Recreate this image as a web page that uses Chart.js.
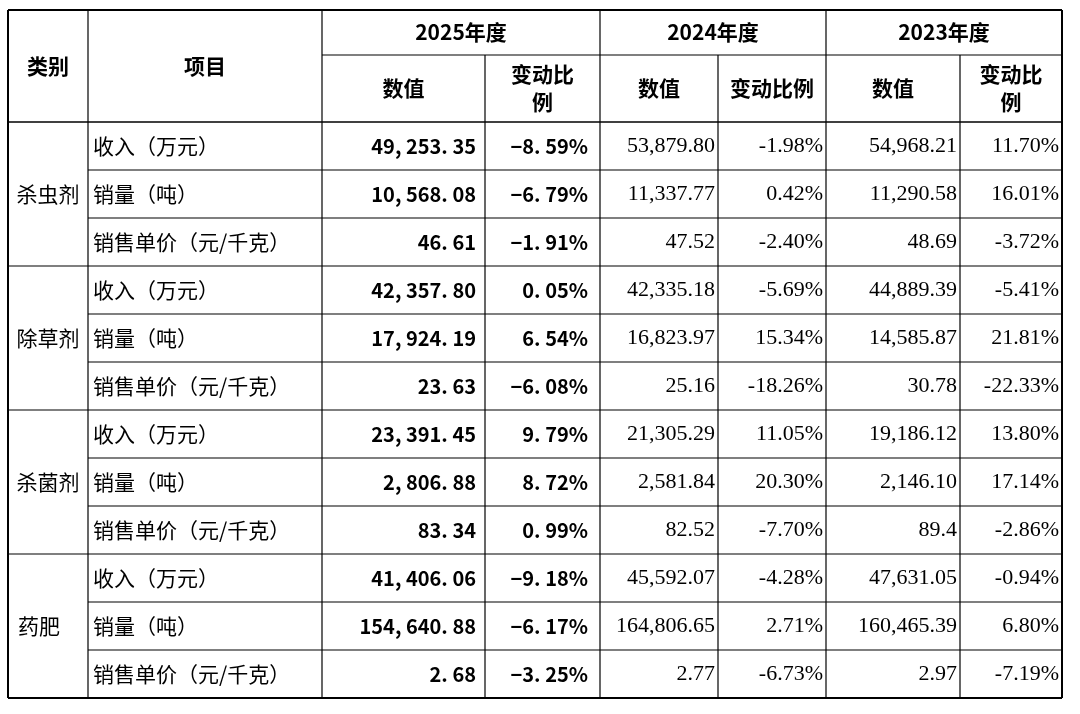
<!DOCTYPE html>
<html>
<head>
<meta charset="utf-8">
<script src="https://cdn.jsdelivr.net/npm/chart.js@4/dist/chart.umd.min.js"></script>
<style>
  html, body { margin: 0; padding: 0; background: #fff; }
  #wrap { width: 1080px; height: 714px; }
</style>
</head>
<body>
<div id="wrap"><canvas id="tableChart" width="1080" height="714"></canvas></div>
<script>
// 表格数据
const categories = ['杀虫剂', '除草剂', '杀菌剂', '药肥'];
const items = ['收入（万元）', '销量（吨）', '销售单价（元/千克）'];
const years = ['2025年度', '2024年度', '2023年度'];

const v2025 = ['49, 253. 35', '10, 568. 08', '46. 61', '42, 357. 80', '17, 924. 19', '23. 63',
               '23, 391. 45', '2, 806. 88', '83. 34', '41, 406. 06', '154, 640. 88', '2. 68'];
const p2025 = ['−8. 59%', '−6. 79%', '−1. 91%', '0. 05%', '6. 54%', '−6. 08%',
               '9. 79%', '8. 72%', '0. 99%', '−9. 18%', '−6. 17%', '−3. 25%'];
const v2024 = ['53,879.80', '11,337.77', '47.52', '42,335.18', '16,823.97', '25.16',
               '21,305.29', '2,581.84', '82.52', '45,592.07', '164,806.65', '2.77'];
const p2024 = ['-1.98%', '0.42%', '-2.40%', '-5.69%', '15.34%', '-18.26%',
               '11.05%', '20.30%', '-7.70%', '-4.28%', '2.71%', '-6.73%'];
const v2023 = ['54,968.21', '11,290.58', '48.69', '44,889.39', '14,585.87', '30.78',
               '19,186.12', '2,146.10', '89.4', '47,631.05', '160,465.39', '2.97'];
const p2023 = ['11.70%', '16.01%', '-3.72%', '-5.41%', '21.81%', '-22.33%',
               '13.80%', '17.14%', '-2.86%', '-0.94%', '6.80%', '-7.19%'];

// 列边界（像素坐标，作为线性刻度的值）
const colEdges = [8, 88, 322, 485, 600, 718, 826, 960, 1062];
const headTop = 10, headMid = 55, headBottom = 122, rowH = 48;

const cellPoints = [];
for (let r = 0; r < 12; r++) {
    for (let c = 1; c < 8; c++) {
        cellPoints.push({ x: (colEdges[c] + colEdges[c + 1]) / 2, y: headBottom + rowH * (r + 0.5) });
    }
}

const tablePlugin = {
    id: 'tablePlugin',
    afterDraw(chart) {
        const ctx = chart.ctx;
        const xs = chart.scales.x, ys = chart.scales.y;
        const X = v => xs.getPixelForValue(v);
        const Y = v => ys.getPixelForValue(v);
        const rowY = r => headBottom + rowH * r;

        ctx.save();
        ctx.strokeStyle = '#000';
        function line(x1, y1, x2, y2, w) {
            ctx.lineWidth = w || 1.2;
            ctx.beginPath();
            ctx.moveTo(X(x1), Y(y1));
            ctx.lineTo(X(x2), Y(y2));
            ctx.stroke();
        }
        const L = colEdges[0], R = colEdges[8], B = rowY(12);
        // 竖线
        colEdges.forEach((cx, i) => {
            const top = (i === 3 || i === 5 || i === 7) ? headMid : headTop;
            line(cx, top, cx, B, (i === 0 || i === 8) ? 2 : 1.2);
        });
        // 横线
        line(L, headTop, R, headTop, 2);
        line(colEdges[2], headMid, R, headMid);
        line(L, headBottom, R, headBottom, 1.5);
        for (let r = 1; r < 12; r++) {
            const startX = (r % 3 === 0) ? L : colEdges[1];
            line(startX, rowY(r), R, rowY(r));
        }
        line(L, B, R, B, 2);

        ctx.fillStyle = '#000';
        ctx.textBaseline = 'middle';
        function text(t, x, y, font, align) {
            ctx.font = font;
            ctx.textAlign = align || 'center';
            ctx.fillText(t, X(x), Y(y));
        }
        const hFont = 'bold 21px "Noto Sans CJK SC"';
        text('类别', 48, 66, hFont);
        text('项目', 205, 66, hFont);
        years.forEach((yr, i) => {
            const a = colEdges[2 + i * 2], b = colEdges[4 + i * 2];
            text(yr, (a + b) / 2, 32, hFont);
            text('数值', (a + colEdges[3 + i * 2]) / 2, 88, hFont);
            const pc = (colEdges[3 + i * 2] + b) / 2;
            if (i === 1) {
                text('变动比例', pc, 88, hFont);
            } else {
                text('变动比', pc, 74, hFont);
                text('例', pc, 102, hFont);
            }
        });

        const cjk = '21px "Noto Sans CJK SC"';
        const bold = 'bold 20px "Noto Sans CJK SC"';
        const serif = '22px "Liberation Serif"';
        categories.forEach((c, g) => {
            const cy = rowY(g * 3 + 1.5);
            if (g === 3) text(c, 18, cy, cjk, 'left');
            else text(c, 48, cy, cjk);
        });
        for (let r = 0; r < 12; r++) {
            const cy = rowY(r + 0.5);
            text(items[r % 3], 93, cy, cjk, 'left');
            text(v2025[r], 476, cy, bold, 'right');
            text(p2025[r], 588, cy, bold, 'right');
            text(v2024[r], 715, cy, serif, 'right');
            text(p2024[r], 823, cy, serif, 'right');
            text(v2023[r], 957, cy, serif, 'right');
            text(p2023[r], 1059, cy, serif, 'right');
        }
        ctx.restore();
    }
};

new Chart(document.getElementById('tableChart').getContext('2d'), {
    type: 'scatter',
    data: {
        datasets: [{
            data: cellPoints,
            pointRadius: 0,
            backgroundColor: 'rgba(0,0,0,0)'
        }]
    },
    options: {
        responsive: false,
        animation: false,
        layout: { padding: 0 },
        scales: {
            x: { type: 'linear', min: 0, max: 1080, display: false },
            y: { type: 'linear', min: 0, max: 714, reverse: true, display: false }
        },
        plugins: {
            legend: { display: false },
            tooltip: { enabled: false }
        }
    },
    plugins: [tablePlugin]
});
</script>
</body>
</html>
